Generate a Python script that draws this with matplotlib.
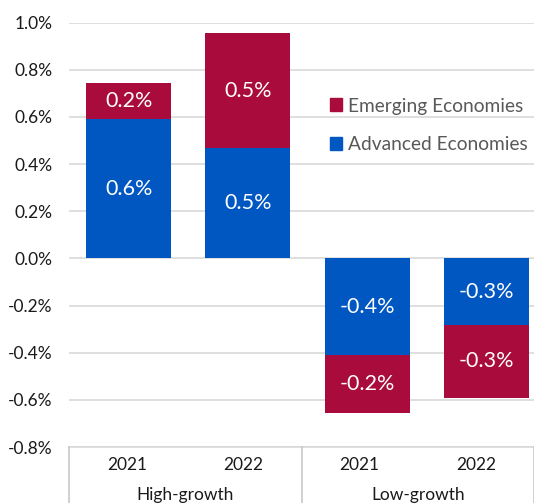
import matplotlib
matplotlib.use("Agg")
import numpy as np
from matplotlib import pyplot as plt
from matplotlib.lines import Line2D
from matplotlib.patches import Patch
from matplotlib.ticker import FuncFormatter

plt.rcParams["font.family"] = ["Lato", "DejaVu Sans"]

# contribution to growth, in percentage points
groups = ["High-growth", "Low-growth"]
years = ["2021", "2022", "2021", "2022"]
advanced = [0.59, 0.47, -0.41, -0.28]
emerging = [0.153, 0.484, -0.246, -0.31]

blue = "#0057c2"
red = "#a80b3c"
grid_col = "#d9d9d9"

fig = plt.figure(figsize=(5.34, 5.03), dpi=100)
left = 69 / 534
ax = fig.add_axes([left, 0.111, 1.0225 - left, 0.844])

x = np.arange(len(years))
adv = np.array(advanced)
em = np.array(emerging)
ax.bar(x, adv, width=0.714, color=blue, zorder=3)
ax.bar(x, em, width=0.714, bottom=adv, color=red, zorder=3)

# value labels in the middle of each segment
for i in range(len(x)):
    ax.text(x[i], adv[i] / 2, f"{adv[i]:.1f}%", ha="center", va="center",
            color="white", fontsize=15.5, zorder=4)
    ax.text(x[i], adv[i] + em[i] / 2, f"{em[i]:.1f}%", ha="center", va="center",
            color="white", fontsize=15.5, zorder=4)

ax.set_xlim(-0.5, 3.5)
ax.set_ylim(-0.8, 1.0)
ax.set_yticks(np.arange(-0.8, 1.01, 0.2))
ax.yaxis.set_major_formatter(FuncFormatter(lambda v, p: f"{v + 0.0:.1f}%".replace("-0.0", "0.0")))
ax.tick_params(axis="y", length=0, pad=12, labelsize=12.5, labelcolor="#1a1a1a")
ax.set_xticks([])
ax.grid(axis="y", color=grid_col, linewidth=1.2, zorder=0)
for s in ["top", "right", "left"]:
    ax.spines[s].set_visible(False)
ax.spines["bottom"].set_color(grid_col)
ax.spines["bottom"].set_linewidth(1.2)

# two-level category axis below the plot
band = (1 - left) / 4
for i, yr in enumerate(years):
    fig.text(left + (i + 0.5) * band, 0.0755, yr, ha="center", va="center",
             fontsize=12.5, color="#1a1a1a")
for j, g in enumerate(groups):
    fig.text(left + (2 * j + 1) * band, 0.0159, g, ha="center", va="center",
             fontsize=12.5, color="#1a1a1a")
for k in range(3):
    xs = left + 2 * k * band
    fig.add_artist(Line2D([xs, xs], [0, 0.111], color="#c8c8c8", linewidth=1.2))

handles = [Patch(color=red, label="Emerging Economies"),
           Patch(color=blue, label="Advanced Economies")]
ax.legend(handles=handles, loc="upper left", bbox_to_anchor=(0.618, 0.806),
          bbox_transform=fig.transFigure, frameon=False, fontsize=13.8,
          labelcolor="#595959", handlelength=0.65, handleheight=0.65,
          handletextpad=0.3, labelspacing=1.12, borderpad=0, borderaxespad=0)

plt.savefig("out.png", dpi=100)
